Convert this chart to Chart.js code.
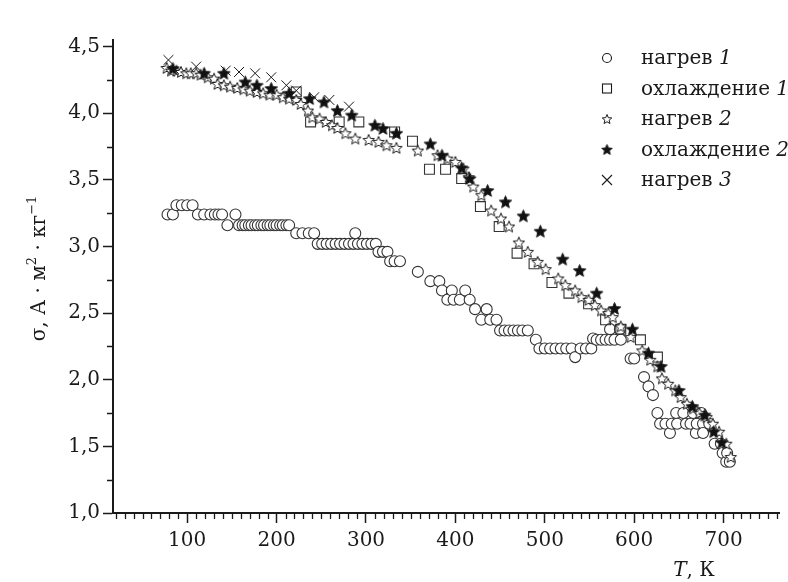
<!DOCTYPE html>
<html>
<head>
<meta charset="utf-8">
<script src="https://cdn.jsdelivr.net/npm/chart.js@4.4.1/dist/chart.umd.min.js"></script>
<style>
  html, body { margin: 0; padding: 0; background: #fff; }
  canvas { display: block; }
</style>
</head>
<body>
<canvas id="chart" width="788" height="582"></canvas>
<script>
// --- data: T (K) and sigma (A·m²/kg) ---
const heat1T = [78, 84, 88, 94, 100, 106, 112, 119, 126, 131, 135, 139, 145, 154, 158, 162, 165, 169, 172, 176, 179, 183, 186, 190, 193, 197, 200, 204, 207, 211, 214, 222, 229, 236, 242, 246, 251, 256, 261, 266, 271, 276, 281, 286, 288, 291, 296, 301, 306, 311, 314, 319, 324, 327, 332, 338, 358, 372, 382, 385, 391, 396, 398, 405, 411, 416, 422, 429, 435, 439, 446, 450, 455, 460, 465, 470, 475, 481, 490, 494, 500, 506, 512, 518, 524, 530, 534, 540, 546, 552, 554, 558, 563, 568, 573, 573, 578, 584, 585, 596, 600, 611, 616, 621, 626, 629, 635, 640, 642, 647, 648, 655, 658, 663, 666, 669, 670, 675, 677, 677, 684, 690, 697, 699, 703, 704, 707];
const heat1S = [3.24, 3.24, 3.31, 3.31, 3.31, 3.31, 3.24, 3.24, 3.24, 3.24, 3.24, 3.24, 3.16, 3.24, 3.16, 3.16, 3.16, 3.16, 3.16, 3.16, 3.16, 3.16, 3.16, 3.16, 3.16, 3.16, 3.16, 3.16, 3.16, 3.16, 3.16, 3.10, 3.10, 3.10, 3.10, 3.02, 3.02, 3.02, 3.02, 3.02, 3.02, 3.02, 3.02, 3.02, 3.10, 3.02, 3.02, 3.02, 3.02, 3.02, 2.96, 2.96, 2.96, 2.89, 2.89, 2.89, 2.81, 2.74, 2.74, 2.67, 2.60, 2.67, 2.60, 2.60, 2.67, 2.60, 2.53, 2.45, 2.53, 2.45, 2.45, 2.37, 2.37, 2.37, 2.37, 2.37, 2.37, 2.37, 2.30, 2.235, 2.235, 2.235, 2.235, 2.235, 2.235, 2.235, 2.17, 2.235, 2.235, 2.235, 2.31, 2.30, 2.30, 2.30, 2.30, 2.38, 2.30, 2.38, 2.30, 2.16, 2.16, 2.02, 1.95, 1.885, 1.75, 1.67, 1.67, 1.60, 1.67, 1.75, 1.67, 1.75, 1.67, 1.67, 1.75, 1.60, 1.67, 1.75, 1.67, 1.60, 1.67, 1.52, 1.52, 1.45, 1.385, 1.45, 1.385];

const cool1T = [222, 238, 270, 292, 332, 352, 371, 389, 407, 428, 449, 469, 488, 508, 527, 549, 568, 585, 607, 626];
const cool1S = [4.16, 3.935, 3.935, 3.935, 3.86, 3.79, 3.58, 3.58, 3.51, 3.30, 3.15, 2.95, 2.87, 2.73, 2.65, 2.57, 2.45, 2.38, 2.30, 2.17];

const heat2T = [77, 82, 88, 93, 99, 104, 110, 115, 123, 130, 134, 141, 148, 156, 163, 170, 178, 185, 192, 200, 207, 214, 222, 227, 235, 240, 248, 255, 262, 268, 277, 288, 303, 314, 323, 334, 358, 380, 391, 400, 409, 415, 420, 429, 440, 451, 460, 471, 481, 492, 501, 515, 523, 534, 541, 549, 556, 563, 571, 576, 585, 596, 609, 618, 626, 631, 638, 646, 652, 659, 666, 673, 681, 688, 695, 703, 708];
const heat2S = [4.34, 4.32, 4.32, 4.31, 4.30, 4.30, 4.30, 4.29, 4.27, 4.26, 4.22, 4.21, 4.20, 4.19, 4.18, 4.17, 4.16, 4.15, 4.14, 4.14, 4.12, 4.11, 4.10, 4.07, 4.02, 3.97, 3.96, 3.935, 3.91, 3.89, 3.85, 3.81, 3.80, 3.785, 3.76, 3.74, 3.72, 3.685, 3.66, 3.635, 3.585, 3.52, 3.45, 3.385, 3.27, 3.21, 3.15, 3.03, 2.96, 2.885, 2.83, 2.76, 2.71, 2.67, 2.62, 2.60, 2.56, 2.52, 2.50, 2.47, 2.40, 2.32, 2.22, 2.15, 2.10, 2.01, 1.97, 1.92, 1.87, 1.82, 1.785, 1.75, 1.72, 1.67, 1.61, 1.52, 1.42];

const cool2T = [84, 119, 141, 165, 178, 194, 214, 237, 253, 268, 284, 310, 319, 334, 372, 385, 407, 416, 436, 456, 476, 495, 520, 539, 558, 578, 598, 616, 630, 650, 665, 679, 689, 698];
const cool2S = [4.336, 4.30, 4.30, 4.235, 4.21, 4.186, 4.15, 4.11, 4.085, 4.02, 3.986, 3.91, 3.886, 3.85, 3.77, 3.685, 3.59, 3.51, 3.42, 3.335, 3.23, 3.115, 2.905, 2.82, 2.65, 2.535, 2.38, 2.20, 2.10, 1.92, 1.80, 1.735, 1.61, 1.53];

const heat3T = [79, 110, 143, 158, 176, 194, 211, 222, 242, 259, 281];
const heat3S = [4.40, 4.35, 4.32, 4.31, 4.30, 4.27, 4.21, 4.17, 4.12, 4.10, 4.05];

const legendNames = ['нагрев', 'охлаждение', 'нагрев', 'охлаждение', 'нагрев'];
const legendNums = ['1', '1', '2', '2', '3'];
const xTickStep = 100;
const yTickStep = 0.5;

const INK = '#1a1a1a';
const FONT = '"DejaVu Serif", "Liberation Serif", serif';

function toPoints(xs, ys) {
    return xs.map((t, i) => ({ x: t, y: ys[i] }));
}

function starPath(ctx, cx, cy, R) {
    const r = R * 0.45;
    ctx.beginPath();
    for (let i = 0; i < 10; i++) {
        const a = -Math.PI / 2 + i * Math.PI / 5;
        const rr = i % 2 === 0 ? R : r;
        const px = cx + rr * Math.cos(a), py = cy + rr * Math.sin(a);
        if (i === 0) ctx.moveTo(px, py); else ctx.lineTo(px, py);
    }
    ctx.closePath();
}

function makeStar(R, filled) {
    const c = document.createElement('canvas');
    const s = Math.ceil(2 * R + 4);
    c.width = s; c.height = s;
    const g = c.getContext('2d');
    starPath(g, s / 2, s / 2 + 0.5, R);
    g.fillStyle = filled ? '#111' : '#fff';
    g.fill();
    g.lineWidth = 1;
    g.strokeStyle = INK;
    g.stroke();
    return c;
}

const hollowStar = makeStar(6, false);
const filledStar = makeStar(6.5, true);
const hollowStarSmall = makeStar(5, false);
const filledStarSmall = makeStar(5.5, true);

// --- axis ticks, titles, legend ---
function drawRich(ctx, parts, x, y, align) {
    let w = 0;
    parts.forEach(p => { ctx.font = p.font; p.w = ctx.measureText(p.t).width; w += p.w; });
    let cx = align === 'center' ? x - w / 2 : x;
    parts.forEach(p => {
        ctx.font = p.font;
        ctx.fillText(p.t, cx, y + (p.dy || 0));
        cx += p.w;
    });
}

const decor = {
    id: 'decor',
    afterDraw(chart) {
        const ctx = chart.ctx;
        const xs = chart.scales.x, ys = chart.scales.y;
        ctx.save();
        // minor ticks
        ctx.strokeStyle = INK;
        ctx.lineWidth = 1.3;
        ctx.beginPath();
        for (let t = 20; t <= xs.max; t += 10) {
            if (t % xTickStep === 0) continue;
            const px = Math.round(xs.getPixelForValue(t)) + 0.5;
            ctx.moveTo(px, ys.bottom);
            ctx.lineTo(px, ys.bottom + 6);
        }
        for (let v = ys.min + yTickStep / 2; v < ys.max; v += yTickStep) {
            const py = Math.round(ys.getPixelForValue(v)) + 0.5;
            ctx.moveTo(xs.left, py);
            ctx.lineTo(xs.left - 6, py);
        }
        ctx.stroke();

        ctx.fillStyle = INK;
        ctx.textBaseline = 'alphabetic';
        const up = '20px ' + FONT, it = 'italic 20px ' + FONT, sup = '13px ' + FONT;

        // x title
        drawRich(ctx, [{ t: 'T', font: it }, { t: ', К', font: up }], 694, 576, 'center');

        // y title
        ctx.save();
        ctx.translate(45, (ys.top + ys.bottom) / 2 - 8);
        ctx.rotate(-Math.PI / 2);
        drawRich(ctx, [
            { t: 'σ, А · м', font: up },
            { t: '2', font: sup, dy: -9 },
            { t: ' · кг', font: up },
            { t: '−1', font: sup, dy: -9 }
        ], 0, 0, 'center');
        ctx.restore();

        // legend
        const symX = 607, txtX = 641, y0 = 58, dy = 30.5;
        for (let i = 0; i < legendNames.length; i++) {
            const y = y0 + i * dy;
            ctx.strokeStyle = INK;
            ctx.lineWidth = 1.1;
            ctx.fillStyle = '#fff';
            if (i === 0) {
                ctx.beginPath(); ctx.arc(symX, y, 4.5, 0, Math.PI * 2); ctx.fill(); ctx.stroke();
            } else if (i === 1) {
                ctx.strokeRect(symX - 4.5, y - 4.5, 9, 9);
            } else if (i === 2 || i === 3) {
                const img = i === 2 ? hollowStarSmall : filledStarSmall;
                ctx.drawImage(img, symX - img.width / 2, y - img.height / 2);
            } else {
                ctx.beginPath();
                ctx.moveTo(symX - 5, y - 5); ctx.lineTo(symX + 5, y + 5);
                ctx.moveTo(symX + 5, y - 5); ctx.lineTo(symX - 5, y + 5);
                ctx.stroke();
            }
            ctx.fillStyle = INK;
            drawRich(ctx, [{ t: legendNames[i] + ' ', font: up }, { t: legendNums[i], font: it }], txtX, y + 6, 'left');
        }
        ctx.restore();
    }
};

const tickFont = { family: FONT, size: 20 };

new Chart(document.getElementById('chart').getContext('2d'), {
    type: 'scatter',
    data: {
        datasets: [
            {
                label: 'нагрев 3', data: toPoints(heat3T, heat3S), order: 1,
                pointStyle: 'crossRot', pointRadius: 7, borderColor: INK, borderWidth: 1, backgroundColor: INK
            },
            {
                label: 'охлаждение 2', data: toPoints(cool2T, cool2S), order: 2,
                pointStyle: filledStar
            },
            {
                label: 'нагрев 2', data: toPoints(heat2T, heat2S), order: 3,
                pointStyle: hollowStar
            },
            {
                label: 'охлаждение 1', data: toPoints(cool1T, cool1S), order: 4,
                pointStyle: 'rect', pointRadius: 7, borderColor: '#333', borderWidth: 1.1, backgroundColor: 'rgba(255,255,255,0)'
            },
            {
                label: 'нагрев 1', data: toPoints(heat1T, heat1S), order: 5,
                pointStyle: 'circle', pointRadius: 5.5, borderColor: '#333', borderWidth: 1.1, backgroundColor: '#fff'
            }
        ]
    },
    options: {
        responsive: false,
        animation: false,
        layout: { padding: { top: 40, right: 0, left: 0, bottom: 0 } },
        plugins: {
            legend: { display: false },
            tooltip: { enabled: false }
        },
        scales: {
            x: {
                type: 'linear',
                min: 17,
                max: 763,
                afterFit: s => { s.height = 69; },
                ticks: {
                    stepSize: xTickStep, includeBounds: false, autoSkip: false, maxRotation: 0,
                    font: tickFont, color: INK, padding: 6,
                    callback: v => String(v)
                },
                grid: { drawOnChartArea: false, tickLength: 10, tickWidth: 1.5, tickColor: INK },
                border: { color: INK, width: 2 }
            },
            y: {
                type: 'linear',
                min: 1,
                max: 4.55,
                afterFit: s => { s.width = 113; },
                ticks: {
                    stepSize: yTickStep, includeBounds: false,
                    font: tickFont, color: INK, padding: 3,
                    callback: v => v.toFixed(1).replace('.', ',')
                },
                grid: { drawOnChartArea: false, tickLength: 10, tickWidth: 1.5, tickColor: INK },
                border: { color: INK, width: 2 }
            }
        }
    },
    plugins: [decor]
});
</script>
</body>
</html>
